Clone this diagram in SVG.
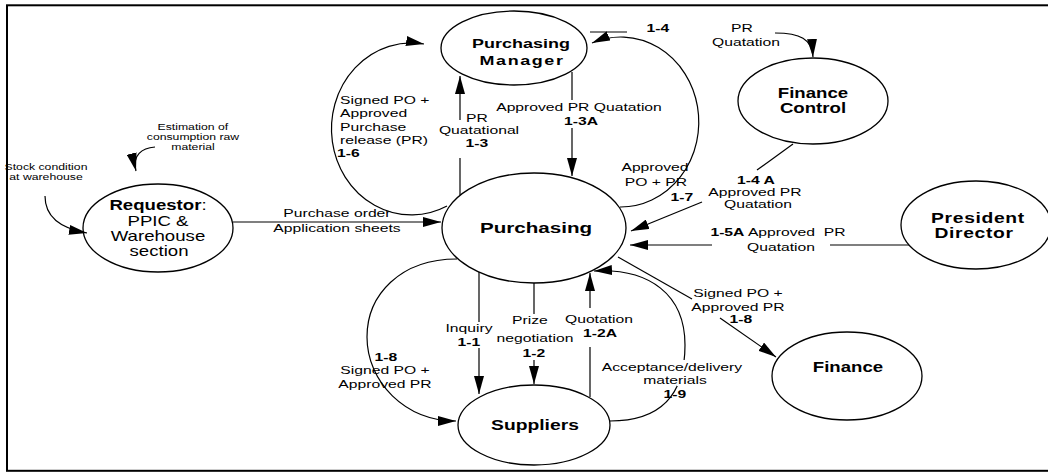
<svg xmlns="http://www.w3.org/2000/svg" width="1048" height="472" viewBox="0 0 1048 472">
  <defs>
    <marker id="ah" viewBox="0 0 18 10" refX="18" refY="5" markerWidth="18" markerHeight="10" markerUnits="userSpaceOnUse" orient="auto">
      <path d="M0,0 L18,5 L0,10 z" fill="#000"/>
    </marker>
  </defs>
  <style>
    text{font-family:"Liberation Sans",Arial,Helvetica,sans-serif;fill:#000;text-anchor:middle;transform:scaleX(1.33);transform-box:fill-box;transform-origin:center}
    .n{font-size:14px;font-weight:bold}
    .r{font-size:14px}
    .e{font-size:11.8px}
    .b{font-weight:bold}
    .s{font-size:9.2px}
    .l{text-anchor:start;transform-origin:left center}
    .node{fill:#fff;stroke:#000;stroke-width:1.3}
    .c{fill:none;stroke:#000;stroke-width:1.2}
    .a{marker-end:url(#ah)}
  </style>

  <rect x="0" y="0" width="1048" height="472" fill="#fff"/>

  <!-- process bubbles -->
  <g id="requestor">
    <ellipse class="node" cx="158" cy="228" rx="75" ry="44"/>
    <text class="n" x="158" y="210">Requestor<tspan font-weight="normal">:</tspan></text>
    <text class="r" x="158" y="226">PPIC &amp;</text>
    <text class="r" x="158" y="241">Warehouse</text>
    <text class="r" x="159" y="256">section</text>
  </g>
  <g id="purchasing-manager">
    <ellipse class="node" cx="514" cy="48" rx="73" ry="37"/>
    <text class="n" x="521" y="48" style="font-size:13.5px">Purchasing</text>
    <text class="n" x="522" y="65" style="font-size:13.5px" letter-spacing="1.2">Manager</text>
  </g>
  <g id="purchasing">
    <ellipse class="node" cx="534" cy="228" rx="92" ry="55"/>
    <text class="n" x="536" y="233" style="font-size:15.5px">Purchasing</text>
  </g>
  <g id="finance-control">
    <ellipse class="node" cx="813" cy="101" rx="75" ry="43"/>
    <text class="n" x="813" y="98">Finance</text>
    <text class="n" x="813" y="113">Control</text>
  </g>
  <g id="president-director">
    <ellipse class="node" cx="976" cy="225" rx="75" ry="44"/>
    <text class="n" x="978" y="223" style="font-size:14.5px" letter-spacing="0.5">President</text>
    <text class="n" x="974" y="238" style="font-size:14.5px" letter-spacing="0.5">Director</text>
  </g>
  <g id="finance">
    <ellipse class="node" cx="847" cy="376" rx="75" ry="44"/>
    <text class="n" x="848" y="372">Finance</text>
  </g>
  <g id="suppliers">
    <ellipse class="node" cx="534" cy="425" rx="76" ry="40"/>
    <text class="n" x="535" y="430" style="font-size:14.5px">Suppliers</text>
  </g>

  <!-- data flows -->
  <g id="connectors">
    <path class="c a" d="M45,196 C45,215 58,228 87,233"/>
    <path class="c a" d="M155,147 C142,148 132,155 136,171"/>
    <path class="c a" d="M233,222 L441,222"/>
    <!-- 1-3 -->
    <path class="c" d="M460,195 L460,158"/>
    <path class="c a" d="M460,120 L460,76"/>
    <!-- 1-3A -->
    <path class="c" d="M572,72 L572,100"/>
    <path class="c a" d="M572,128 L572,176"/>
    <!-- 1-6 -->
    <path class="c a" d="M447,206 A80,86 0 1 1 424,44"/>
    <!-- 1-7 -->
    <path class="c a" d="M620,207 A78,85 0 1 0 592,43"/>
    <!-- 1-4 -->
    <path class="c" d="M590,32 L627,32"/>
    <path class="c a" d="M775,33 C800,33 812,39 813,57"/>
    <!-- 1-4 A -->
    <path class="c" d="M793,144 L757,170"/>
    <path class="c a" d="M702,202 L631,231"/>
    <!-- 1-5A -->
    <path class="c" d="M909,245 L830,245"/>
    <path class="c a" d="M712,245 L630,245"/>
    <!-- 1-8 to finance -->
    <path class="c" d="M618,257 L692,299"/>
    <path class="c a" d="M720,318 L776,357"/>
    <!-- 1-8 to suppliers -->
    <path class="c a" d="M457,259 C400,259 367,295 367,337 C367,382 405,421 456,421"/>
    <!-- 1-1 -->
    <path class="c" d="M479,272 L479,322"/>
    <path class="c a" d="M479,348 L479,394"/>
    <!-- 1-2 -->
    <path class="c" d="M534,283 L534,314"/>
    <path class="c a" d="M534,360 L534,384"/>
    <!-- 1-2A -->
    <path class="c" d="M590,397 L590,347"/>
    <path class="c a" d="M590,308 L590,273"/>
    <!-- 1-9 -->
    <path class="c a" d="M610,421 C655,421 685,400 685,345 C685,295 650,268 594,271"/>
  </g>

  <!-- flow labels -->
  <g id="labels">
    <text class="s" x="193" y="130">Estimation of</text>
    <text class="s" x="193" y="140">consumption raw</text>
    <text class="s" x="193" y="150">material</text>
    <text class="s" x="46" y="170">Stock condition</text>
    <text class="s" x="46" y="180">at warehouse</text>

    <text class="e" x="337" y="217">Purchase order</text>
    <text class="e" x="337" y="232">Application sheets</text>

    <text class="e l" x="340" y="104">Signed PO +</text>
    <text class="e l" x="340" y="117">Approved</text>
    <text class="e l" x="340" y="131">Purchase</text>
    <text class="e l" x="340" y="144">release (PR)</text>
    <text class="e b l" x="337" y="157">1-6</text>

    <text class="e" x="477" y="122">PR</text>
    <text class="e" x="479" y="134">Quatational</text>
    <text class="e b" x="477" y="147">1-3</text>

    <text class="e" x="579" y="111">Approved PR Quatation</text>
    <text class="e b" x="581" y="125">1-3A</text>

    <text class="e b" x="658" y="32">1-4</text>
    <text class="e" x="742" y="32">PR</text>
    <text class="e" x="746" y="46">Quatation</text>

    <text class="e" x="655" y="171">Approved</text>
    <text class="e" x="656" y="186">PO + PR</text>
    <text class="e b" x="682" y="201">1-7</text>

    <text class="e b" x="756" y="184">1-4 A</text>
    <text class="e" x="755" y="196">Approved PR</text>
    <text class="e" x="758" y="208">Quatation</text>

    <text class="e" x="778" y="236" xml:space="preserve"><tspan font-weight="bold">1-5A</tspan> Approved  PR</text>
    <text class="e" x="781" y="251">Quatation</text>

    <text class="e" x="738" y="297">Signed PO +</text>
    <text class="e" x="738" y="311">Approved PR</text>
    <text class="e b" x="741" y="323">1-8</text>

    <text class="e b" x="386" y="361">1-8</text>
    <text class="e" x="385" y="374">Signed PO +</text>
    <text class="e" x="385" y="388">Approved PR</text>

    <text class="e" x="469" y="332">Inquiry</text>
    <text class="e b" x="469" y="346">1-1</text>

    <text class="e" x="530" y="324">Prize</text>
    <text class="e" x="535" y="342">negotiation</text>
    <text class="e b" x="534" y="357">1-2</text>

    <text class="e" x="599" y="323">Quotation</text>
    <text class="e b" x="600" y="337">1-2A</text>

    <rect x="677" y="360" width="16" height="26" fill="#fff"/>
    <text class="e" x="672" y="371">Acceptance/delivery</text>
    <text class="e" x="675" y="384">materials</text>
    <text class="e b" x="675" y="398">1-9</text>
  </g>

  <!-- page frame -->
  <rect x="7" y="5.3" width="1050" height="465.5" fill="none" stroke="#000" stroke-width="2"/>
</svg>
